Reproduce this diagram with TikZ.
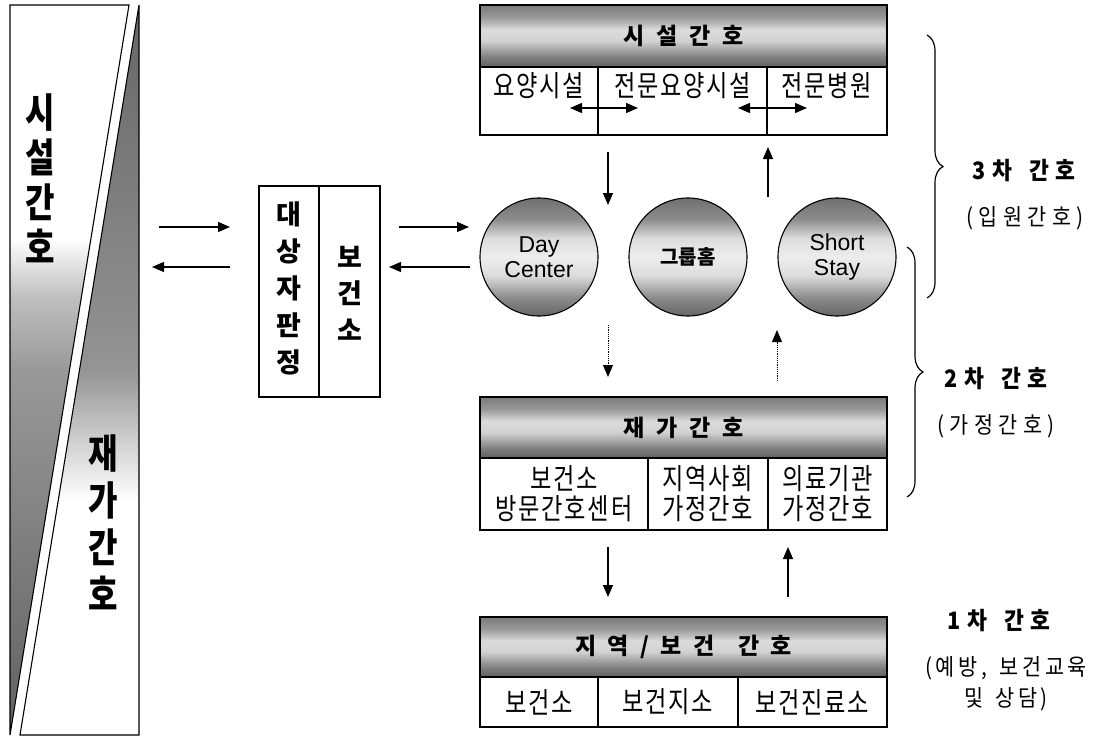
\documentclass[tikz,border=0pt]{standalone}
\usepackage{fontspec}
\usetikzlibrary{arrows.meta,decorations.pathreplacing}
\newfontfamily\kr[FakeStretch=0.8,LetterSpace=6]{Noto Sans CJK KR}
\newfontfamily\krn{Noto Sans CJK KR}
\newfontfamily\krb[FakeStretch=0.8]{Noto Sans CJK KR}
\newfontfamily\krh[WordSpace=2.2]{Noto Sans CJK KR}
\newfontfamily\krl[FakeStretch=0.9,LetterSpace=27,WordSpace=1.5]{Noto Sans CJK KR}
\newfontfamily\krs[FakeStretch=0.9,LetterSpace=24,WordSpace=1.5]{Noto Sans CJK KR}
\newfontfamily\krt[FakeStretch=0.9,LetterSpace=16,WordSpace=1.5]{Noto Sans CJK KR}
\newfontfamily\lat{Liberation Sans}
\pgfdeclareverticalshading{band}{100bp}{color(0bp)=(black!62); color(25bp)=(black!62); color(33bp)=(black!50); color(46bp)=(black!18); color(55bp)=(black!14); color(65bp)=(black!40); color(75bp)=(black!52); color(100bp)=(black!52)}
\pgfdeclareverticalshading{cband}{100bp}{color(0bp)=(black!60); color(25bp)=(black!60); color(33bp)=(black!45); color(42bp)=(black!14); color(50bp)=(black!7); color(58bp)=(black!14); color(66bp)=(black!45); color(75bp)=(black!56); color(100bp)=(black!56)}
\pgfdeclareverticalshading{lefttri}{100bp}{color(0bp)=(black!62); color(25bp)=(black!62); color(50bp)=(black!40); color(55bp)=(black!25); color(59bp)=(white); color(100bp)=(white)}
\pgfdeclareverticalshading{righttri}{100bp}{color(0bp)=(white); color(41bp)=(white); color(45bp)=(black!18); color(50bp)=(black!42); color(75bp)=(black!60); color(100bp)=(black!60)}
\begin{document}
\begin{tikzpicture}[x=1pt,y=-1pt,
  box/.style={draw=black,line width=1.1pt,inner sep=0pt},
  hdr/.style={box,shade,shading=band,minimum width=407pt,font=\krh\bfseries\fontsize{23}{26}\selectfont},
  cell/.style={box,fill=white,align=center,font=\kr\fontsize{29}{30}\selectfont},
  txt/.style={font=\kr\fontsize{29}{30}\selectfont,inner sep=0pt},
  circ/.style={circle,draw=black,line width=1.1pt,shade,shading=cband,minimum size=118pt,inner sep=0pt,align=center,font=\lat\fontsize{23}{25}\selectfont},
  vert/.style={align=center,inner sep=0pt},
  rlab/.style={font=\krl\bfseries\fontsize{24}{28}\selectfont,inner sep=0pt},
  rsub/.style={font=\krs\fontsize{23}{30}\selectfont,inner sep=0pt,align=center},
  arr/.style={-{Triangle[length=12pt,width=10pt]},line width=1.2pt},
  darr/.style={{Triangle[length=12pt,width=10pt]}-{Triangle[length=12pt,width=10pt]},line width=1.2pt},
  dotarr/.style={arr,densely dotted,line width=1pt},
  bracestyle/.style={decorate,decoration={brace,amplitude=16pt},line width=1.2pt}]
\useasboundingbox (0,0) rectangle (1096,737);

% left panel
\shade[shading=lefttri,draw=black,line width=1.1pt] (10,5) -- (129,5) -- (10,735) -- cycle;
\shade[shading=righttri,draw=black,line width=1.1pt] (139,5) -- (139,735) -- (20,735) -- cycle;
\node[vert,font=\krb\bfseries\fontsize{40}{45}\selectfont] (lp1) at (40,178) {시\\설\\간\\호};
\node[vert,font=\krb\bfseries\fontsize{40}{47}\selectfont] (lp2) at (103,522) {재\\가\\간\\호};
\coordinate (lpr1) at (159,227);
\coordinate (lpr2) at (152,267);

% judgement box
\node[box,minimum width=60pt,minimum height=211pt] (jl) at (289,291.5) {};
\node[box,minimum width=61pt,minimum height=211pt] (jr) at (349.5,291.5) {};
\node[vert,font=\krn\bfseries\fontsize{27}{37}\selectfont] (jlt) at (289,288) {대\\상\\자\\판\\정};
\node[vert,font=\krn\bfseries\fontsize{27}{36.5}\selectfont] (jrt) at (349.5,293) {보\\건\\소};
\coordinate (jin) at (230,227);
\coordinate (jout) at (230,267);
\coordinate (jin2) at (389,267);
\coordinate (jout2) at (399,227);

% circles
\node[circ] (dc) at (539,257) {Day\\Center};
\node[circ,font=\krn\bfseries\fontsize{20}{22}\selectfont] (gh) at (688,257) {그룹홈};
\node[circ] (ss) at (837,257) {Short\\Stay};
\coordinate (dcin) at (469,227);
\coordinate (dcout) at (470,267);

% top box: facility nursing
\node[hdr,minimum height=62pt] (fh) at (683.5,36) {시 설 간 호};
\node[box,fill=white,minimum width=118pt,minimum height=68pt] (f1) at (539,101) {};
\node[box,fill=white,minimum width=169pt,minimum height=68pt] (f2) at (682.5,101) {};
\node[box,fill=white,minimum width=120pt,minimum height=68pt] (f3) at (827,101) {};
\node[txt] (f1t) at (539,86) {요양시설};
\node[txt] (f2t) at (682.5,86) {전문요양시설};
\node[txt] (f3t) at (827,86) {전문병원};
\coordinate (da1) at (570,108);
\coordinate (db1) at (638,108);
\coordinate (da2) at (738,108);
\coordinate (db2) at (807,108);

% home box
\node[hdr,minimum height=61pt] (hh) at (683.5,427.5) {재 가 간 호};
\node[cell,minimum width=168pt,minimum height=72pt] (h1) at (564,494) {보건소\\방문간호센터};
\node[cell,minimum width=120pt,minimum height=72pt] (h2) at (708,494) {지역사회\\가정간호};
\node[cell,minimum width=119pt,minimum height=72pt] (h3) at (827.5,494) {의료기관\\가정간호};

% community box
\node[hdr,minimum height=60pt] (ch) at (683.5,647) {지 역 / 보 건~ 간 호};
\node[cell,minimum width=118pt,minimum height=50pt] (c1) at (539,702) {보건소};
\node[cell,minimum width=140pt,minimum height=50pt] (c2) at (668,702) {보건지소};
\node[cell,minimum width=149pt,minimum height=50pt] (c3) at (812.5,702) {보건진료소};

% vertical arrow coordinates
\coordinate (v1a) at (608,152); \coordinate (v1b) at (608,205);
\coordinate (v2a) at (768,197); \coordinate (v2b) at (768,147);
\coordinate (v3a) at (608,325); \coordinate (v3b) at (608,377);
\coordinate (v4a) at (777,381); \coordinate (v4b) at (777,330);
\coordinate (v5a) at (608,547); \coordinate (v5b) at (608,597);
\coordinate (v6a) at (788,597); \coordinate (v6b) at (788,547);

% arrows
\draw[arr] (lpr1) -- (jin);
\draw[arr] (jout) -- (lpr2);
\draw[arr] (jout2) -- (dcin);
\draw[arr] (dcout) -- (jin2);
\draw[darr] (da1) -- (db1);
\draw[darr] (da2) -- (db2);
\draw[arr] (v1a) -- (v1b);
\draw[arr] (v2a) -- (v2b);
\draw[dotarr] (v3a) -- (v3b);
\draw[dotarr] (v4a) -- (v4b);
\draw[arr] (v5a) -- (v5b);
\draw[arr] (v6a) -- (v6b);

% braces
\coordinate (b1t) at (927,35); \coordinate (b1b) at (927,298);
\coordinate (b2t) at (907,247); \coordinate (b2b) at (907,497);
\draw[bracestyle] (b1t) -- (b1b);
\draw[bracestyle] (b2t) -- (b2b);

% level labels
\node[rlab] (l3) at (1024,171) {3차 간호};
\node[rsub] (l3s) at (1025,218) {(입원간호)};
\node[rlab] (l2) at (996,379) {2차 간호};
\node[rsub] (l2s) at (996,426) {(가정간호)};
\node[rlab] (l1) at (999,621) {1차 간호};
\node[rsub,font=\krt\fontsize{23}{31}\selectfont] (l1s) at (1006,684) {(예방, 보건교육\\및 상담)};
\end{tikzpicture}
\end{document}
